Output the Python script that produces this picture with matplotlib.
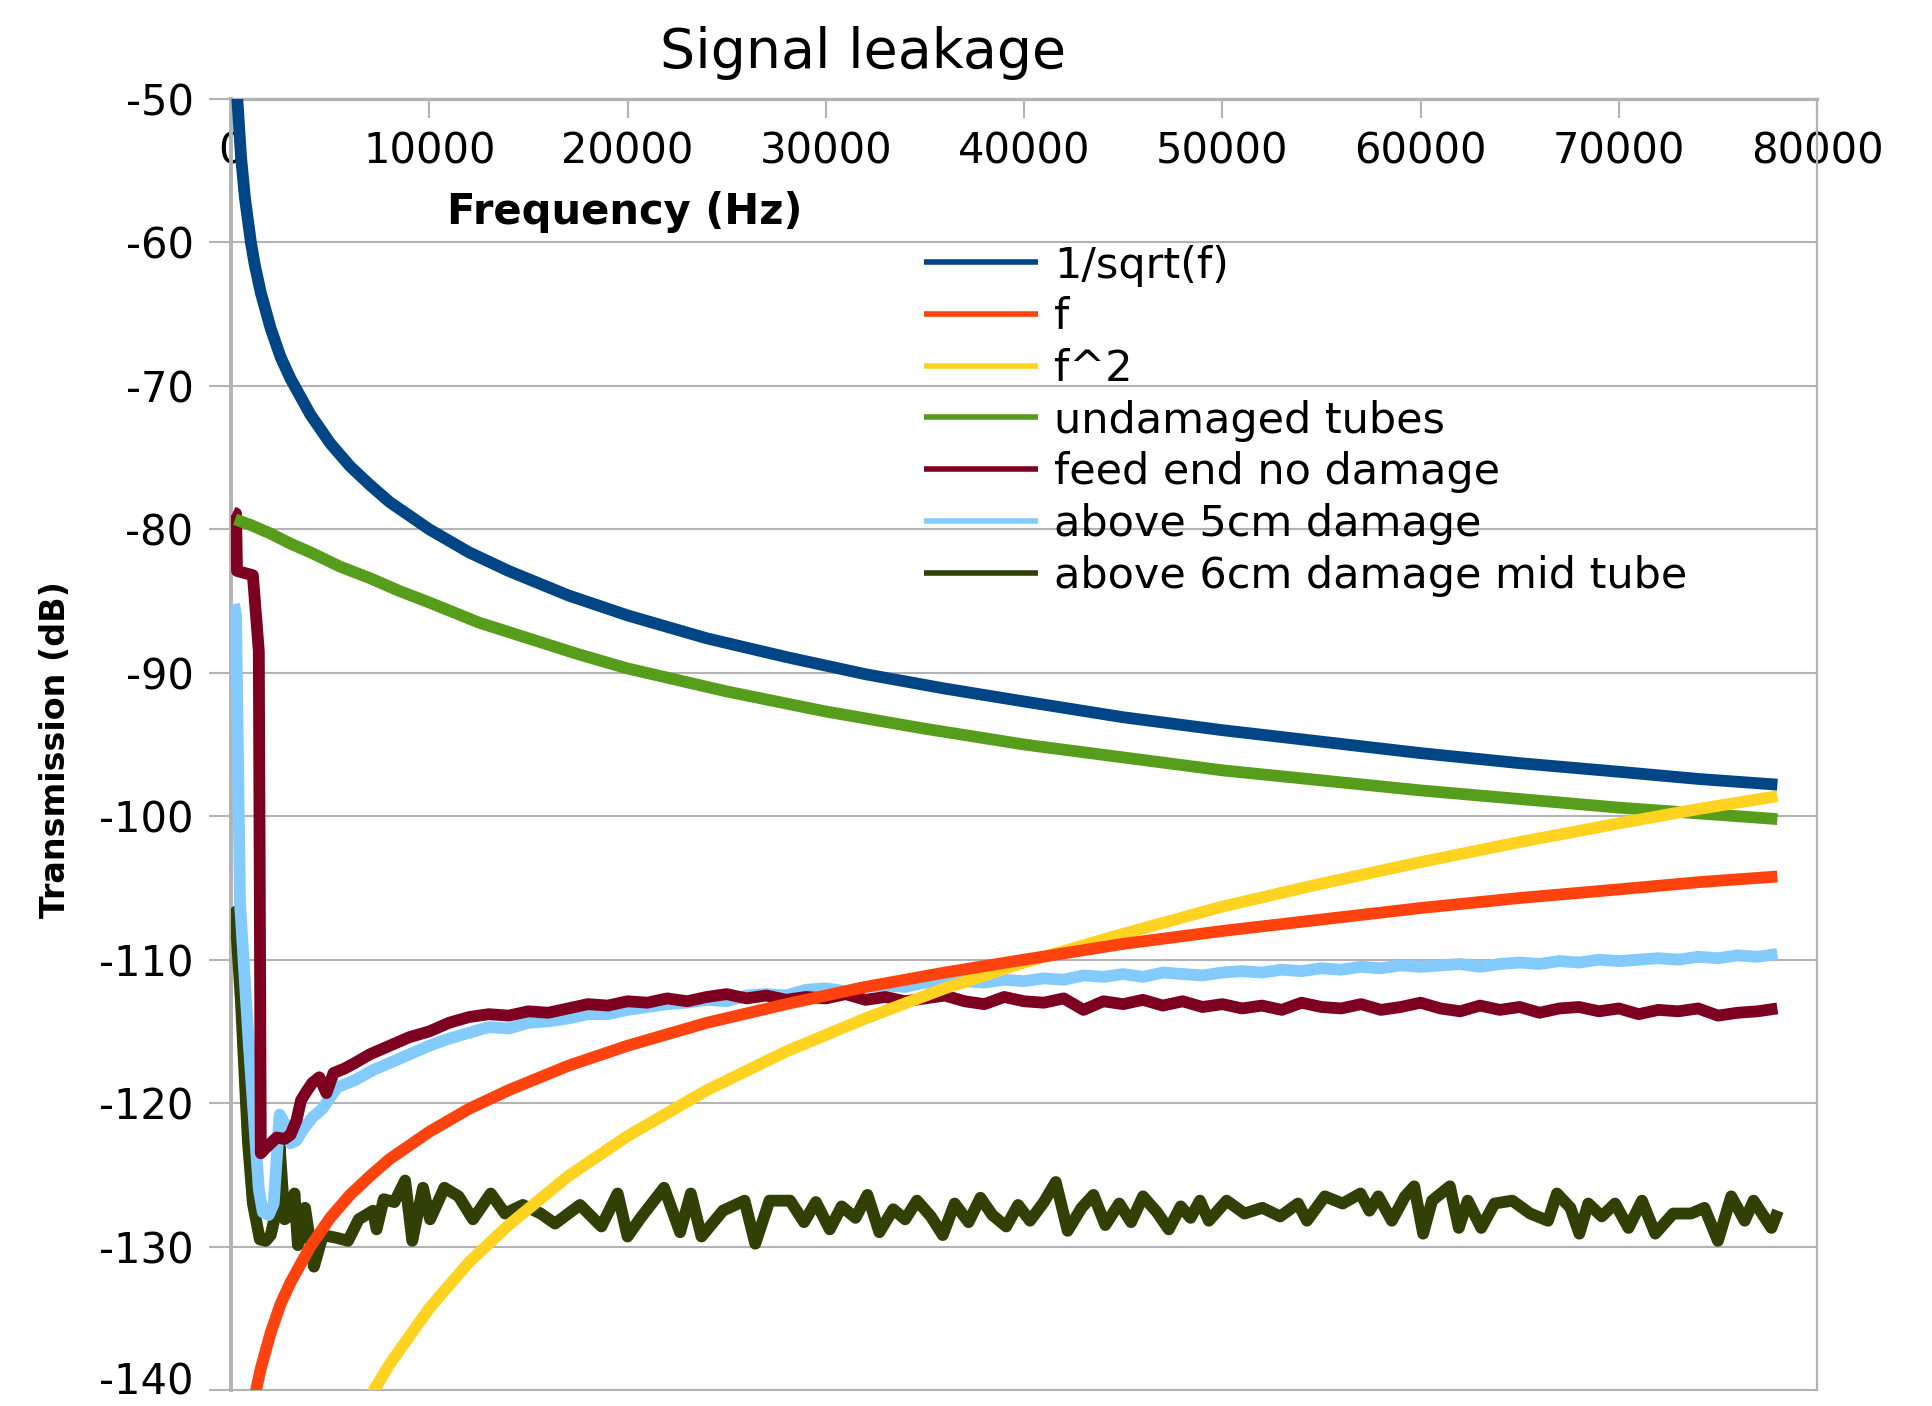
import matplotlib
matplotlib.use("Agg")
import matplotlib.pyplot as plt
from matplotlib.transforms import ScaledTranslation

plt.rcParams['font.family'] = ['DejaVu Sans']
plt.rcParams['axes.unicode_minus'] = False

# --- data (frequency in Hz, transmission in dB) ---
freq_curve = [200, 316, 500, 700, 1000, 1200, 1500, 2000, 2500, 3000, 4000, 5000,
              6000, 7000, 8000, 10000, 12000, 14000, 17000, 20000, 24000, 28000,
              32000, 36000, 40000, 45000, 50000, 55000, 60000, 65000, 70000, 74000, 78000]
inv_sqrt_f = [-46.0, -50.0, -54.0, -56.9, -60.0, -61.6, -63.5, -66.0, -68.0, -69.5, -72.0, -74.0,
              -75.6, -76.9, -78.1, -80.0, -81.6, -82.9, -84.6, -86.0, -87.6, -88.9,
              -90.1, -91.1, -92.0, -93.1, -94.0, -94.8, -95.6, -96.3, -96.9, -97.4, -97.8]
freq_f = freq_curve[4:]
lin_f = [-142.0, -140.4, -138.5, -136.0, -134.0, -132.5, -130.0, -128.0, -126.4, -125.1,
         -123.9, -122.0, -120.4, -119.1, -117.4, -116.0, -114.4, -113.1, -111.9, -110.9,
         -110.0, -108.9, -108.0, -107.2, -106.4, -105.7, -105.1, -104.6, -104.2]
freq_f2 = freq_curve[13:]
sq_f = [-140.5, -138.2, -134.3, -131.1, -128.5, -125.1, -122.3, -119.1, -116.4, -114.1,
        -112.0, -110.2, -108.2, -106.3, -104.7, -103.2, -101.8, -100.5, -99.5, -98.6]

freq_green = [200, 1000, 2000, 3000, 4000, 5500, 7000, 8500, 10000, 12500, 15000, 17500,
              20000, 25000, 30000, 35000, 40000, 45000, 50000, 55000, 60000, 65000,
              70000, 74000, 78000]
undamaged = [-79.3, -79.7, -80.3, -81.0, -81.6, -82.6, -83.4, -84.3, -85.1, -86.5, -87.6, -88.7,
             -89.7, -91.3, -92.7, -93.9, -95.0, -95.9, -96.8, -97.5, -98.2, -98.8,
             -99.4, -99.8, -100.2]

freq_tail = [8000, 9000, 10000, 11000, 12000, 13000, 14000, 15000, 16000, 17000,
             18000, 19000, 20000, 21000, 22000, 23000, 24000, 25000, 26000, 27000,
             28000, 29000, 30000, 31000, 32000, 33000, 34000, 35000, 36000, 37000,
             38000, 39000, 40000, 41000, 42000, 43000, 44000, 45000, 46000, 47000,
             48000, 49000, 50000, 51000, 52000, 53000, 54000, 55000, 56000, 57000,
             58000, 59000, 60000, 61000, 62000, 63000, 64000, 65000, 66000, 67000,
             68000, 69000, 70000, 71000, 72000, 73000, 74000, 75000, 76000, 77000, 78000]

freq_feed_start = [100, 250, 300, 1100, 1400, 1500, 1700, 2000, 2300, 2700, 3000, 3300,
                   3530, 3800, 4090, 4450, 4810, 5170, 5710, 6250, 7000]
feed_start = [-78.8, -78.9, -82.9, -83.2, -88.5, -123.5, -123.2, -122.8, -122.4, -122.5, -122.2, -121.2,
              -119.8, -119.2, -118.6, -118.2, -119.3, -117.9, -117.6, -117.2, -116.6]
feed_tail = [-116.0, -115.4, -115.0, -114.4, -114.0, -113.8, -113.9, -113.6, -113.7, -113.4,
             -113.1, -113.2, -112.9, -113.0, -112.7, -112.9, -112.6, -112.4, -112.7, -112.5,
             -112.8, -112.6, -112.7, -112.4, -112.8, -112.6, -112.9, -112.7, -112.5, -112.9,
             -113.1, -112.6, -112.9, -113.0, -112.7, -113.5, -112.9, -113.1, -112.8, -113.2,
             -112.9, -113.3, -113.1, -113.4, -113.2, -113.5, -113.0, -113.3, -113.4, -113.1,
             -113.5, -113.3, -113.0, -113.4, -113.6, -113.2, -113.5, -113.3, -113.7, -113.4,
             -113.3, -113.6, -113.4, -113.8, -113.5, -113.6, -113.4, -113.9, -113.7, -113.6, -113.4]

freq_5cm_start = [150, 250, 450, 900, 1400, 1600, 1900, 2150, 2450, 2750, 3000, 3300,
                  3600, 4100, 4600, 5350, 6250, 7150]
dmg5_start = [-85.2, -86.0, -106.0, -116.0, -126.0, -127.6, -127.8, -127.0, -120.8, -121.5, -122.8, -122.6,
              -121.9, -121.0, -120.4, -118.9, -118.4, -117.7]
dmg5_tail = [-117.2, -116.6, -116.0, -115.5, -115.1, -114.7, -114.8, -114.4, -114.3, -114.1,
             -113.8, -113.8, -113.5, -113.3, -113.1, -113.0, -112.8, -112.9, -112.5, -112.4,
             -112.5, -112.1, -112.0, -112.2, -111.9, -111.8, -111.9, -111.6, -111.7, -111.5,
             -111.6, -111.4, -111.5, -111.3, -111.4, -111.1, -111.2, -111.0, -111.2, -110.9,
             -111.0, -111.1, -110.9, -110.8, -110.9, -110.7, -110.8, -110.6, -110.7, -110.5,
             -110.6, -110.4, -110.5, -110.4, -110.3, -110.5, -110.3, -110.2, -110.3, -110.1,
             -110.2, -110.0, -110.1, -110.0, -109.9, -110.0, -109.8, -109.9, -109.7, -109.8, -109.6]

freq_6cm = [100, 200, 500, 850, 1100, 1450, 1750, 2000, 2200, 2450, 2700, 3000,
            3200, 3370, 3730, 4180, 4630, 5350, 5900, 6440, 7160, 7340, 7700, 8240,
            8780, 9140, 9680, 10040, 10760, 11480, 12200, 13100, 13820, 14720, 15620, 16340,
            17600, 18680, 19500, 20000, 20660, 21840, 22650, 23190, 23730, 24810, 25900, 26440,
            27160, 28200, 28900, 29500, 30200, 30800, 31500, 32100, 32700, 33400, 34000, 34600,
            35300, 35900, 36500, 37200, 37800, 38400, 39100, 39700, 40300, 41000, 41600, 42200,
            42900, 43500, 44100, 44800, 45400, 46000, 46700, 47300, 47900, 48400, 48870, 49320,
            50220, 51120, 52020, 52920, 53820, 54270, 55170, 56070, 56970, 57420, 57870, 58550,
            59220, 59680, 60130, 60580, 61480, 61930, 62380, 63060, 63730, 64630, 65530, 66430,
            66880, 67560, 68010, 68460, 69140, 69810, 70490, 71170, 71840, 72740, 73640, 74320,
            75000, 75670, 76350, 76800, 77700, 78030]
dmg6 = [-106.3, -106.5, -113.0, -122.7, -127.0, -129.5, -129.6, -129.2, -128.0, -123.0, -128.1, -127.8,
        -126.3, -129.9, -127.3, -131.4, -129.2, -129.4, -129.6, -128.1, -127.5, -128.8, -126.7, -126.9,
        -125.4, -129.6, -125.9, -128.1, -125.9, -126.5, -128.1, -126.3, -127.7, -127.1, -127.7, -128.4,
        -127.1, -128.6, -126.3, -129.3, -128.0, -125.9, -129.0, -126.3, -129.3, -127.5, -126.8, -129.8,
        -126.8, -126.8, -128.3, -126.9, -128.8, -127.2, -128.0, -126.4, -129.0, -127.4, -128.1, -126.8,
        -127.9, -129.2, -127.0, -128.3, -126.6, -127.8, -128.6, -127.1, -128.2, -126.9, -125.5, -128.9,
        -127.3, -126.4, -128.5, -127.0, -128.3, -126.5, -127.6, -128.8, -127.2, -128.0, -126.8, -128.2,
        -126.8, -127.7, -127.3, -127.9, -127.0, -128.2, -126.5, -127.0, -126.3, -127.5, -126.5, -128.2,
        -126.5, -125.8, -129.1, -126.8, -125.8, -128.7, -126.8, -128.7, -127.0, -126.8, -127.7, -128.2,
        -126.3, -127.3, -129.1, -127.0, -127.9, -127.0, -128.7, -126.8, -129.1, -127.7, -127.7, -127.3,
        -129.6, -126.5, -128.2, -126.8, -128.7, -127.5]

names = ['1/sqrt(f)', 'f', 'f^2', 'undamaged tubes', 'feed end no damage',
         'above 5cm damage', 'above 6cm damage mid tube']
colors = ['#004586', '#ff420e', '#ffd320', '#579d1c', '#7e0021', '#83caff', '#314004']

series = [
    (freq_curve, inv_sqrt_f),
    (freq_f, lin_f),
    (freq_f2, sq_f),
    (freq_green, undamaged),
    (freq_feed_start + freq_tail, feed_start + feed_tail),
    (freq_5cm_start + freq_tail, dmg5_start + dmg5_tail),
    (freq_6cm, dmg6),
]

fig = plt.figure(figsize=(19.32, 14.06), dpi=100)
ax = fig.add_axes([0.1196, 0.01138, 0.8209, 0.9182])

grey = '#b3b3b3'
lines = []
for i, ((x, y), name, c) in enumerate(zip(series, names, colors)):
    # first series ends up on top
    ln, = ax.plot(x, y, color=c, lw=8.5, label=name, zorder=10 - i,
                  solid_joinstyle='round', solid_capstyle='butt')
    lines.append(ln)

ax.set_xlim(0, 80000)
ax.set_ylim(-140, -50)
ax.set_xticks(range(0, 80001, 10000))
ax.set_yticks(range(-140, -49, 10))

ax.grid(axis='y', color=grey, lw=1.5)
ax.set_axisbelow(True)

ax.xaxis.tick_top()
ax.tick_params(axis='x', direction='in', length=14, width=1.5, color=grey,
               labelsize=30, pad=-53)
ax.tick_params(axis='y', direction='out', length=16, width=1.5, color=grey,
               labelsize=30, pad=11)

ax.spines['top'].set_color(grey)
ax.spines['top'].set_linewidth(2.4)
ax.spines['left'].set_color(grey)
ax.spines['left'].set_linewidth(2.8)
ax.spines['right'].set_color(grey)
ax.spines['right'].set_linewidth(1.6)
ax.spines['bottom'].set_color(grey)
ax.spines['bottom'].set_linewidth(1.5)

# the -140 label sits at the very bottom edge: lift it a little
bottom_tick = ax.yaxis.get_major_ticks()[0]
bottom_tick.label1.set_transform(bottom_tick.label1.get_transform()
                                 + ScaledTranslation(0, 0.12, fig.dpi_scale_trans))

fig.text(0.4467, 0.9516, 'Signal leakage', fontsize=40, ha='center', va='baseline')
fig.text(0.3235, 0.8407, 'Frequency (Hz)', fontsize=30, fontweight='bold',
         ha='center', va='baseline')
fig.text(0.0285, 0.4666, 'Transmission (dB)', fontsize=24, fontweight='bold',
         rotation=90, ha='center', va='center')

leg = ax.legend(handles=lines, loc='upper left', bbox_to_anchor=(0.4783, 0.8261),
                bbox_transform=fig.transFigure, frameon=False, fontsize=31,
                borderpad=0, borderaxespad=0, handlelength=2.65,
                handletextpad=0.37, labelspacing=0.225)
for ln in leg.get_lines():
    ln.set_linewidth(4)

fig.savefig('out.png', dpi=100)
